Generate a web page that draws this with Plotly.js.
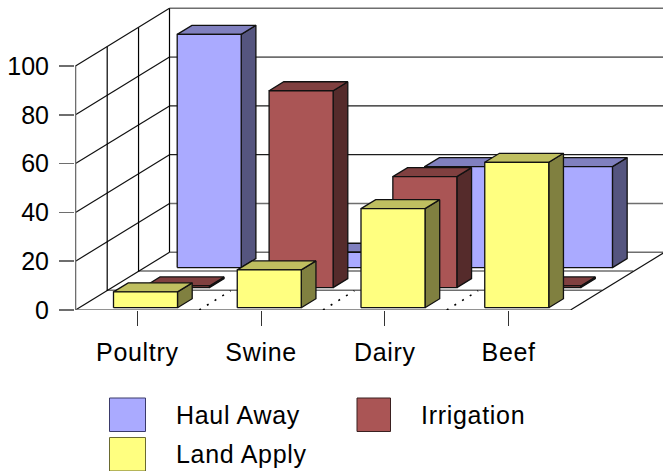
<!DOCTYPE html>
<html>
<head>
<meta charset="utf-8">
<script src="https://cdn.plot.ly/plotly-3.0.1.min.js"></script>
<style>html,body{margin:0;padding:0;background:#fff;overflow:hidden}#c{width:663px;height:471px}
.xtick text,.annotation-text{letter-spacing:.7px}</style>
</head>
<body>
<div id="c"></div>
<script>
var categories = ["Poultry", "Swine", "Dairy", "Beef"];
var haulAway = [95.6, 6.3, 41.4, 41.4];
var irrigation = [0.7, 80.7, 45.5, 0.7];
var landApply = [6.5, 15.5, 40.6, 59.6];
var seriesNames = ["Haul Away", "Irrigation", "Land Apply"];
var valueTicks = [0, 20, 40, 60, 80, 100];

// oblique projection, in axis units
var PX_X = 123.75, PX_Y = 2.44;
var wallDX = 94 / PX_X, wallDY = 57.7 / PX_Y;
var layerDX = 31.85 / PX_X, layerDY = 20.05 / PX_Y;
var barDX = 14.7 / PX_X, barDY = 9 / PX_Y;
var barLeft = 38 / PX_X, barW = 64 / PX_X, barBase = 2.3 / PX_Y;

var traces = [];
function poly(xs, ys, fill, name) {
  var t = {x: xs, y: ys, type: "scatter", mode: "lines", name: name, hoverinfo: "skip",
    showlegend: false, cliponaxis: false, line: {color: "#111", width: 1.3}};
  if (fill) { t.fill = "toself"; t.fillcolor = fill; }
  return t;
}
function lines(segs, color, width, name, dash) {
  var xs = [], ys = [];
  segs.forEach(function (s) { xs.push(s[0], s[2], null); ys.push(s[1], s[3], null); });
  var t = poly(xs, ys, null, name);
  t.line = {color: color, width: width};
  if (dash) t.line.dash = dash;
  return t;
}

// walls and floor
var backGrey = [], backDark = [], leftWall = [];
valueTicks.forEach(function (v) {
  var seg = [wallDX, v + wallDY, 4 + wallDX, v + wallDY];
  if (v === 40 || v === 60) backDark.push(seg); else backGrey.push(seg);
  leftWall.push([0, v, wallDX, v + wallDY]);
});
var wallVert = [1 / 3, 2 / 3, 1].map(function (d) {
  return [d * wallDX + (d === 1 ? 0 : 0.003), d * wallDY, d * wallDX + (d === 1 ? 0 : 0.003), 100 + d * wallDY];
});
var floorLines = [1 / 3, 2 / 3].map(function (d) {
  return [d * wallDX, d * wallDY + 0.2, 4 + d * wallDX, d * wallDY + 0.2];
});
traces.push(lines(backGrey, "#6e6e6e", 1.6, "back wall grid"));
traces.push(lines(backDark, "#1c1c1c", 1.2, "back wall grid dark"));
traces.push(lines(floorLines, "#6e6e6e", 1.6, "floor grid"));
traces.push(lines(leftWall, "#111", 1.2, "side wall grid"));
traces.push(lines(wallVert, "#000", 1.2, "side wall depth grid"));
traces.push(lines([[0, 0, 0, 100], [0, 0, 4, 0]], "#6e6e6e", 1.6, "front edges"));
traces.push(lines([[4, 0, 4 + wallDX, wallDY]], "#111", 1.2, "floor edge"));
traces.push(lines([1, 2, 3].map(function (c) { return [c, 0, c + wallDX / 3, wallDY / 3]; }),
  "#000", 1.6, "floor depth dots", "2px,7px"));

// bars, back layer first
var series = [
  {name: seriesNames[0], vals: haulAway, layer: 2, front: "#AAAAFF", top: "#8080BF", side: "#55557F"},
  {name: seriesNames[1], vals: irrigation, layer: 1, front: "#AA5555", top: "#804040", side: "#552B2B"},
  {name: seriesNames[2], vals: landApply, layer: 0, front: "#FFFF80", top: "#BFBF60", side: "#808040"}
];
series.forEach(function (s) {
  var fx = [], fy = [], tx = [], ty = [], sx = [], sy = [];
  s.vals.forEach(function (v, i) {
    var x0 = i + barLeft + s.layer * layerDX, x1 = x0 + barW;
    var y0 = barBase + s.layer * layerDY, y1 = y0 + v;
    fx.push(x0, x1, x1, x0, x0, null); fy.push(y0, y0, y1, y1, y0, null);
    tx.push(x0, x1, x1 + barDX, x0 + barDX, x0, null); ty.push(y1, y1, y1 + barDY, y1 + barDY, y1, null);
    sx.push(x1, x1 + barDX, x1 + barDX, x1, x1, null); sy.push(y0, y0 + barDY, y1 + barDY, y1, y0, null);
  });
  traces.push(poly(sx, sy, s.side, s.name + " side"));
  traces.push(poly(tx, ty, s.top, s.name + " top"));
  traces.push(poly(fx, fy, s.front, s.name));
});

// legend, placed by pixel
var L = 75, T = 5, W = 588, H = 305;
function px(x) { return (x - L) / W; }
function py(y) { return (T + H - y) / H; }
var keys = [
  {x0: 109.5, x1: 145.5, y0: 398, y1: 431.5, c: "#AAAAFF", lc: "#3a3a6a", tx: 174, ty: 415, i: 0},
  {x0: 357, x1: 390.5, y0: 398, y1: 431.5, c: "#AA5555", lc: "#3a2020", tx: 419, ty: 415, i: 1},
  {x0: 109.5, x1: 145.5, y0: 437.5, y1: 471, c: "#FFFF80", lc: "#6a6a30", tx: 174, ty: 454, i: 2}
];
var FONT = "Liberation Sans, Arial, sans-serif", FS = 25;
var shapes = keys.map(function (k) {
  return {type: "rect", xref: "paper", yref: "paper", x0: px(k.x0), x1: px(k.x1), y0: py(k.y0), y1: py(k.y1),
    fillcolor: k.c, line: {color: k.lc, width: 1}};
});
var annotations = keys.map(function (k) {
  return {xref: "paper", yref: "paper", x: px(k.tx), y: py(k.ty), xanchor: "left", yanchor: "middle",
    text: seriesNames[k.i], showarrow: false, font: {family: FONT, size: FS, color: "#000"}};
});

var layout = {
  width: 663, height: 471, showlegend: false,
  paper_bgcolor: "#fff", plot_bgcolor: "#fff",
  margin: {l: L, r: 0, t: T, b: 471 - T - H, pad: 0},
  font: {family: FONT, size: FS, color: "#000"},
  xaxis: {
    range: [(L - 75.5) / PX_X, (663 - 75.5) / PX_X],
    tickmode: "array", tickvals: [0.5, 1.5, 2.5, 3.5], ticktext: categories,
    ticks: "outside", ticklen: 15, tickwidth: 1, tickcolor: "#333",
    ticklabelstandoff: 5, showgrid: false, zeroline: false, showline: false,
    tickfont: {family: FONT, size: FS, color: "#000"}
  },
  yaxis: {
    range: [0, H / PX_Y],
    tickmode: "array", tickvals: valueTicks,
    ticks: "outside", ticklen: 15, tickwidth: 1.6, tickcolor: "#6e6e6e",
    ticklabelstandoff: 5, showgrid: false, zeroline: false, showline: false,
    tickfont: {family: FONT, size: FS, color: "#000"}
  },
  shapes: shapes, annotations: annotations
};
Plotly.newPlot("c", traces, layout, {displayModeBar: false, staticPlot: true});
</script>
</body>
</html>
